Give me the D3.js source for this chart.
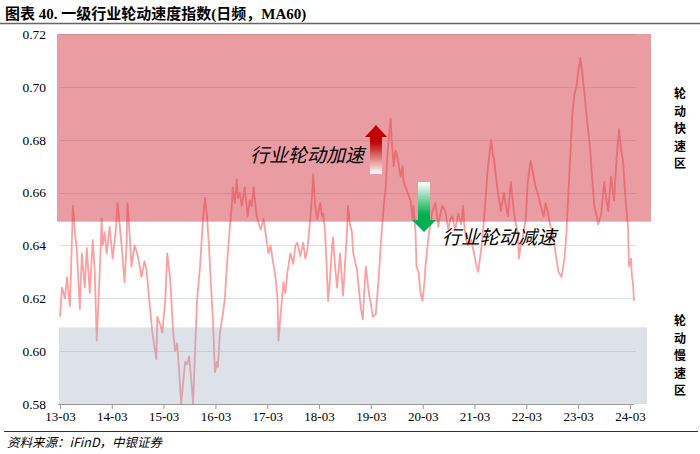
<!DOCTYPE html>
<html>
<head>
<meta charset="utf-8">
<script src="https://cdn.jsdelivr.net/npm/d3@7"></script>
<style>
  body { margin: 0; background: #fff; }
  svg { display: block; }
</style>
</head>
<body>
<script>
// Weeks since 2013-03-01 and index values
var weeks = [0,2,5,7,10,13,15,17,20,22,25,27,30,33,35,37,40,42,43,45,47,50,53,56,58,60,62,65,67,68,70,72,75,77,80,82,85,87,90,93,95,97,98,
  101,103,106,108,111,114,116,118,120,122,124,126,128,130,132,134,136,138,141,144,146,148,150,151,154,156,158,159,161,164,166,168,171,173,174,176,178,179,181,183,186,189,191,193,195,198,
  202,205,208,210,212,214,217,219,220,222,225,227,229,232,235,237,239,242,245,247,249,252,254,255,257,259,262,264,265,267,270,272,274,275,277,279,282,283,285,287,289,290,292,294,295,297,299,
  303,305,306,308,311,313,315,318,321,323,325,326,328,330,332,333,334,336,338,340,343,345,346,348,350,353,355,356,358,359,361,363,365,367,368,371,373,375,378,381,383,385,388,391,393,395,398,401,
  404,406,407,409,411,414,417,419,421,424,427,429,431,433,434,436,437,439,441,444,447,449,451,454,457,459,461,462,464,466,469,471,474,477,479,481,484,487,489,491,494,496,499,502,
  505,508,510,512,514,516,518,520,522,524,526,528,530,532,534,535,538,540,542,545,548,550,552,555,558,560,562,563,565,567,568,570,572,573,575,576,577,578];
var values = [.613,.624,.620,.628,.617,.655,.645,.638,.616,.637,.624,.639,.622,.642,.630,.604,.630,.650,.640,.645,.637,.647,.635,.645,.656,.648,.640,.626,.640,.656,.645,.632,.640,.638,.633,.628,.634,.631,.619,.607,.602,.597,.613,
  .610,.607,.619,.637,.627,.607,.600,.603,.592,.580,.588,.596,.595,.598,.590,.580,.600,.619,.632,.650,.658,.651,.640,.632,.612,.592,.596,.594,.607,.614,.620,.632,.647,.655,.662,.656,.665,.658,.660,.655,.662,.651,.657,.655,.662,.651,
  .646,.650,.642,.637,.640,.635,.628,.620,.604,.613,.626,.622,.630,.637,.633,.640,.641,.636,.641,.635,.638,.650,.660,.667,.655,.650,.656,.651,.652,.645,.619,.628,.640,.643,.632,.624,.637,.632,.621,.633,.645,.655,.648,.645,.638,.634,.631,
  .616,.612,.620,.632,.622,.618,.613,.614,.628,.640,.650,.655,.662,.676,.684,.688,.680,.670,.676,.673,.666,.670,.664,.662,.660,.657,.650,.655,.645,.632,.630,.622,.619,.626,.632,.643,.648,.653,.656,.647,.652,.655,.653,.646,.650,.651,.646,.652,
  .648,.655,.648,.642,.640,.642,.637,.633,.630,.638,.650,.660,.670,.676,.680,.674,.673,.666,.660,.653,.660,.655,.651,.664,.653,.648,.645,.635,.640,.643,.650,.664,.672,.666,.662,.660,.655,.651,.656,.653,.647,.645,.637,.630,
  .628,.635,.645,.660,.675,.690,.697,.700,.706,.711,.705,.698,.690,.683,.676,.670,.655,.652,.648,.652,.664,.658,.653,.666,.657,.670,.680,.684,.676,.672,.666,.655,.647,.632,.635,.628,.626,.619];

var yTicks = [0.58, 0.60, 0.62, 0.64, 0.66, 0.68, 0.70, 0.72];
var tickYears = [2013,2014,2015,2016,2017,2018,2019,2020,2021,2022,2023,2024];
var tickLabels = ["13-03","14-03","15-03","16-03","17-03","18-03","19-03","20-03","21-03","22-03","23-03","24-03"];
var fastZone = [0.649, 0.72];
var slowZone = [0.58, 0.609];

var width = 700, height = 454;
var start = new Date(2013, 2, 1);
var data = weeks.map(function(w, i) {
  return { date: d3.timeDay.offset(start, w * 7), value: values[i] };
});

var svg = d3.select("body").append("svg")
  .attr("width", width)
  .attr("height", height);

var x = d3.scaleTime()
  .domain([start, new Date(2024, 2, 1)])
  .range([60, 630]);
var y = d3.scaleLinear()
  .domain([0.58, 0.72])
  .range([404, 34]);

var serif = "'Liberation Serif','Times New Roman','Noto Sans CJK SC',serif";
var cjk = "'Noto Sans CJK SC',sans-serif";

// title
svg.append("text")
  .attr("x", 5).attr("y", 19)
  .style("font-family", serif)
  .style("font-weight", "bold")
  .style("font-size", "15px")
  .text("图表 40. 一级行业轮动速度指数(日频，MA60)");
svg.append("line")
  .attr("x1", 0).attr("x2", 700).attr("y1", 23.5).attr("y2", 23.5)
  .attr("stroke", "#666").attr("stroke-width", 1.5);

// gridlines
svg.append("g").selectAll("line")
  .data(yTicks.slice(1))
  .enter().append("line")
  .attr("x1", 60).attr("x2", 636)
  .attr("y1", d => Math.round(y(d)) + 0.5)
  .attr("y2", d => Math.round(y(d)) + 0.5)
  .attr("stroke", "#d8dfe8");

// series
var line = d3.line()
  .x(d => x(d.date))
  .y(d => y(d.value));
svg.append("path")
  .datum(data)
  .attr("fill", "none")
  .attr("stroke", "#ffa0a0")
  .attr("stroke-width", 1.8)
  .attr("stroke-linejoin", "round")
  .attr("d", line);

// zones on top, semi transparent
svg.append("rect")
  .attr("x", 57).attr("width", 651 - 57)
  .attr("y", y(fastZone[1])).attr("height", y(fastZone[0]) - y(fastZone[1]))
  .attr("fill", "rgb(211,57,69)").attr("fill-opacity", 0.5);
svg.append("rect")
  .attr("x", 59).attr("width", 647 - 59)
  .attr("y", y(slowZone[1])).attr("height", y(slowZone[0]) - y(slowZone[1]))
  .attr("fill", "rgb(158,169,189)").attr("fill-opacity", 0.35);

// x axis
var xAxis = d3.axisBottom(x)
  .tickValues(tickYears.map(yr => new Date(yr, 2, 1)))
  .tickFormat((d, i) => tickLabels[i])
  .tickSize(5)
  .tickPadding(3);
var gx = svg.append("g")
  .attr("transform", "translate(0,404)")
  .call(xAxis);
gx.select(".domain").attr("d", "M58,0.5H634").attr("stroke", "#999");
gx.selectAll(".tick line").attr("stroke", "#999").attr("y1", 0);
gx.selectAll(".tick text")
  .style("font-family", serif).style("font-size", "13px").attr("fill", "#000");

// y axis labels
var yAxis = d3.axisLeft(y)
  .tickValues(yTicks)
  .tickFormat(d3.format(".2f"))
  .tickSize(0)
  .tickPadding(0);
var gy = svg.append("g")
  .attr("transform", "translate(46,0)")
  .call(yAxis);
gy.select(".domain").remove();
gy.selectAll(".tick text")
  .style("font-family", serif).style("font-size", "13.5px").attr("fill", "#000");

// arrows
var defs = svg.append("defs");
var gRed = defs.append("linearGradient").attr("id", "gRed")
  .attr("x1", 0).attr("x2", 0).attr("y1", 0).attr("y2", 1);
gRed.append("stop").attr("offset", "0%").attr("stop-color", "#c00000");
gRed.append("stop").attr("offset", "35%").attr("stop-color", "#c00000");
gRed.append("stop").attr("offset", "100%").attr("stop-color", "#ffffff");
var gGreen = defs.append("linearGradient").attr("id", "gGreen")
  .attr("x1", 0).attr("x2", 0).attr("y1", 0).attr("y2", 1);
gGreen.append("stop").attr("offset", "0%").attr("stop-color", "#ffffff");
gGreen.append("stop").attr("offset", "65%").attr("stop-color", "#00b050");
gGreen.append("stop").attr("offset", "100%").attr("stop-color", "#00b050");

svg.append("path")
  .attr("d", "M376,125 L387,137 L382,137 L382,174 L370,174 L370,137 L365,137 Z")
  .attr("fill", "url(#gRed)");
svg.append("path")
  .attr("d", "M418,182 L430,182 L430,220 L436,220 L424,232 L412,220 L418,220 Z")
  .attr("fill", "url(#gGreen)");

// annotations
function note(tx, ty, str) {
  svg.append("text")
    .attr("x", tx).attr("y", ty)
    .style("font-family", cjk)
    .style("font-style", "italic")
    .style("font-size", "19px")
    .attr("fill", "#000")
    .text(str);
}
note(250, 162, "行业轮动加速");
note(442, 244, "行业轮动减速");

// right zone labels, one character per row
function vlabel(cy, str) {
  svg.append("g").selectAll("text")
    .data(str.split(""))
    .enter().append("text")
    .attr("x", 680)
    .attr("y", (d, i) => cy + i * 17.5 + 5)
    .attr("text-anchor", "middle")
    .style("font-family", cjk)
    .style("font-weight", "bold")
    .style("font-size", "12px")
    .text(d => d);
}
vlabel(93, "轮动快速区");
vlabel(320, "轮动慢速区");

// source
svg.append("line")
  .attr("x1", 4).attr("x2", 698).attr("y1", 431.5).attr("y2", 431.5)
  .attr("stroke", "#333").attr("stroke-width", 1);
svg.append("text")
  .attr("x", 7).attr("y", 447)
  .style("font-family", cjk)
  .style("font-style", "italic")
  .style("font-size", "12.5px")
  .text("资料来源：iFinD，中银证券");
</script>
</body>
</html>
